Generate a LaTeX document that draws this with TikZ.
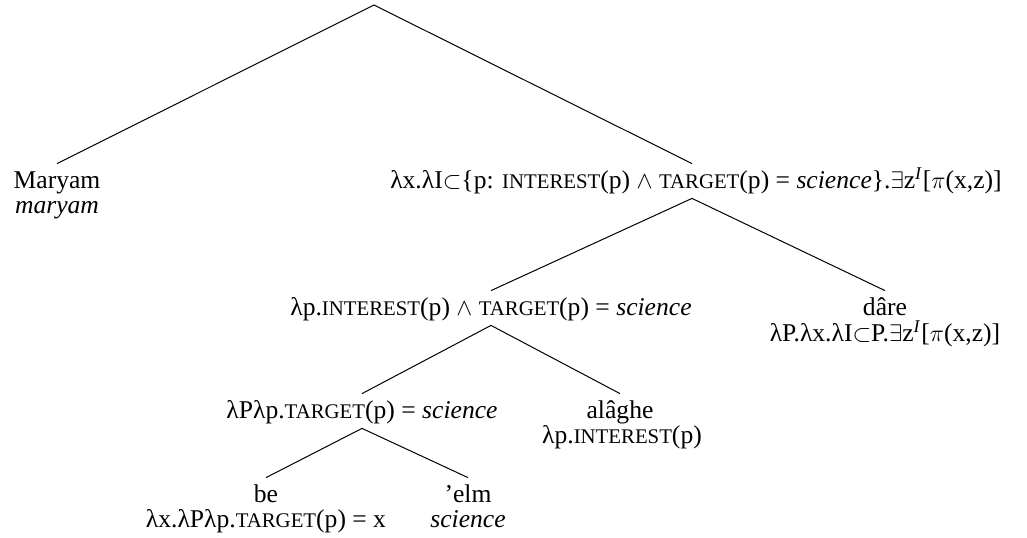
\documentclass[tikz,border=0pt]{standalone}
\usepackage{fontspec}
\setmainfont{Liberation Serif}
\newcommand\smc[1]{{\fontsize{10.4}{10.4}\selectfont #1}}
\begin{document}
\begin{tikzpicture}[x=0.5pt,y=-0.5pt,
  lab/.style={anchor=base,inner sep=0pt,text height=12pt,text depth=5pt,font=\fontsize{12.8}{12.5}\selectfont},
  leaf/.style={anchor=base,inner sep=0pt,text height=12pt,text depth=0pt,font=\fontsize{12.8}{12.5}\selectfont},
  gl/.style={anchor=base,inner sep=0pt,font=\fontsize{12.8}{12.5}\selectfont},
  branch/.style={draw=black,line width=0.5pt}]
\useasboundingbox (0,0) rectangle (1027,537);
\coordinate (root) at (374,5);
\node[leaf] (maryam) at (57,188) {Maryam};
\node[gl] (maryamg) at (57,213) {\textit{maryam}};
\node[lab] (top) at (696,188) {λx.λI$\subset$\{p: \smc{INTEREST}(p) $\wedge$ \smc{TARGET}(p) = \textit{science}\}.$\exists$z\textsuperscript{\textit{I}}[$\pi$(x,z)]};
\node[lab] (lp) at (491,315) {λp.\smc{INTEREST}(p) $\wedge$ \smc{TARGET}(p) = \textit{science}};
\node[leaf] (dare) at (885,315) {dâre};
\node[gl] (dareg) at (885,341) {λP.λx.λI$\subset$P.$\exists$z\textsuperscript{\textit{I}}[$\pi$(x,z)]};
\node[lab] (lPlp) at (362,418) {λPλp.\smc{TARGET}(p) = \textit{science}};
\node[leaf] (alaghe) at (620,418) {alâghe};
\node[gl] (alagheg) at (622,443) {λp.\smc{INTEREST}(p)};
\node[leaf] (be) at (266,502) {be};
\node[gl] (beg) at (266,527) {λx.λPλp.\smc{TARGET}(p) = x};
\node[leaf] (elm) at (468,502) {’elm};
\node[gl] (elmg) at (468,527) {\textit{science}};
\draw[branch] (maryam.north) -- (root) -- ([xshift=-2pt]top.north);
\draw[branch] (lp.north) -- ([xshift=-2pt]top.south) -- (dare.north);
\draw[branch] (lPlp.north) -- (lp.south) -- (alaghe.north);
\draw[branch] (be.north) -- (lPlp.south) -- (elm.north);
\end{tikzpicture}
\end{document}
